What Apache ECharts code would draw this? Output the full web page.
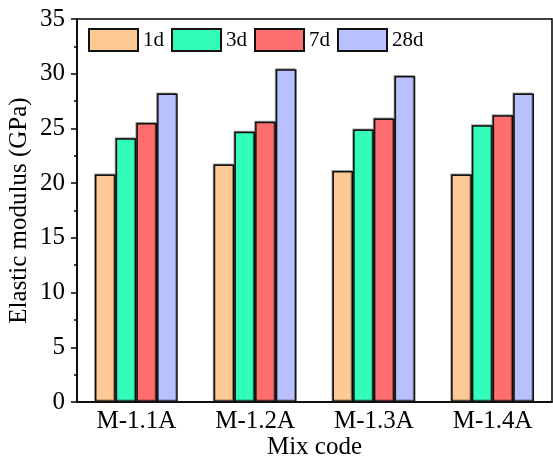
<!DOCTYPE html>
<html>
<head>
<meta charset="utf-8">
<script src="https://cdn.jsdelivr.net/npm/echarts@6/dist/echarts.min.js"></script>
<style>
  html, body { margin: 0; padding: 0; background: #fff; }
  #chart { width: 553px; height: 460px; }
</style>
</head>
<body>
<div id="chart"></div>
<script>
// Elastic modulus of each mix at different curing ages
const mixCodes = ['M-1.1A', 'M-1.2A', 'M-1.3A', 'M-1.4A'];
const ages = ['1d', '3d', '7d', '28d'];
const modulus1d = [20.8, 21.7, 21.1, 20.8];
const modulus3d = [24.1, 24.7, 24.9, 25.3];
const modulus7d = [25.5, 25.6, 25.9, 26.2];
const modulus28d = [28.2, 30.4, 29.8, 28.2];
const ageColors = ['#FEC994', '#33FDBB', '#FF6E6E', '#B9C0FE'];
const yTicks = [0, 5, 10, 15, 20, 25, 30, 35];

const seriesValues = [modulus1d, modulus3d, modulus7d, modulus28d];
const font = 'Liberation Serif, Times New Roman, serif';

const chart = echarts.init(document.getElementById('chart'));
chart.setOption({
  animation: false,
  textStyle: { fontFamily: font, color: '#000' },
  grid: {
    left: 77, right: 1, top: 19, bottom: 58,
    containLabel: false,
    outerBoundsMode: 'none',
    show: true, borderColor: '#000', borderWidth: 1.5
  },
  legend: {
    left: 88, top: 28, padding: 0,
    itemWidth: 49, itemHeight: 22, itemGap: 7,
    icon: 'rect',
    textStyle: { fontFamily: font, fontSize: 21, color: '#000' },
    data: ages
  },
  xAxis: [{
    type: 'category',
    data: mixCodes,
    name: 'Mix code',
    nameLocation: 'middle',
    nameGap: 33,
    nameMoveOverlap: false,
    nameTextStyle: { fontFamily: font, fontSize: 25, color: '#000' },
    axisLine: { lineStyle: { color: '#000', width: 1.5 } },
    axisTick: { alignWithLabel: true, length: 6, lineStyle: { color: '#000', width: 1.5 } },
    axisLabel: { fontFamily: font, fontSize: 25, color: '#000', margin: 7 }
  }, {
    type: 'category',
    data: mixCodes,
    position: 'bottom',
    axisLine: { show: false },
    axisTick: { length: 3, lineStyle: { color: '#000', width: 1.5 } },
    axisLabel: { show: false }
  }],
  yAxis: {
    type: 'value',
    min: yTicks[0], max: yTicks[yTicks.length - 1], interval: 5,
    name: 'Elastic modulus (GPa)',
    nameLocation: 'middle',
    nameGap: 45,
    nameMoveOverlap: false,
    nameTextStyle: { fontFamily: font, fontSize: 25, color: '#000' },
    axisLine: { show: true, lineStyle: { color: '#000', width: 1.5 } },
    axisTick: { show: true, length: 6, lineStyle: { color: '#000', width: 1.5 } },
    minorTick: { show: true, splitNumber: 2, length: 3, lineStyle: { color: '#000', width: 1.5 } },
    splitLine: { show: false },
    axisLabel: { fontFamily: font, fontSize: 25, color: '#000', margin: 12 }
  },
  series: ages.map((age, i) => ({
    name: age,
    type: 'bar',
    data: seriesValues[i],
    barWidth: 20.7,
    barGap: '0%',
    itemStyle: {
      color: ageColors[i],
      borderColor: '#111',
      borderWidth: 1.5,
      shadowColor: 'rgba(0,0,0,0.35)',
      shadowBlur: 0,
      shadowOffsetX: -1,
      shadowOffsetY: -1
    }
  }))
});
</script>
</body>
</html>
